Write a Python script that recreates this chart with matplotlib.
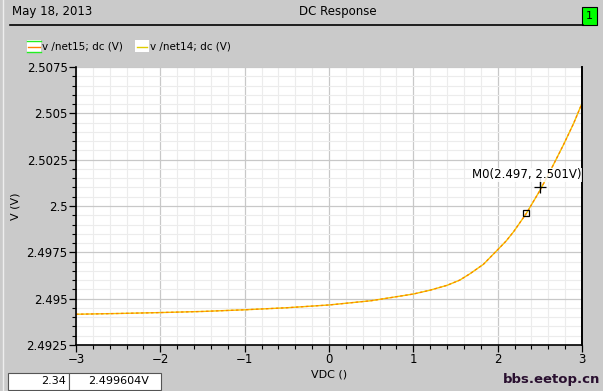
"""DC Response plot, Virtuoso-style viewer look."""

import matplotlib
matplotlib.use("Agg")
import matplotlib.pyplot as plt
from matplotlib.patches import Rectangle
from matplotlib.lines import Line2D
from matplotlib.ticker import MultipleLocator, FixedLocator

plt.rcParams["font.family"] = ["DejaVu Sans"]

# sweep points
vdc = [-3.0, -2.5, -2.0, -1.5, -1.0, -0.5, 0.0, 0.5, 1.0, 1.2, 1.4, 1.55, 1.67,
       1.83, 2.0, 2.1, 2.19, 2.34, 2.5, 2.64, 2.78, 2.9, 3.0]
v_net15 = [2.49416, 2.49420, 2.49425, 2.49431, 2.49440, 2.49451, 2.49466, 2.49489,
           2.49525, 2.49546, 2.49572, 2.49600, 2.49634, 2.49685, 2.49764, 2.49811,
           2.49862, 2.49960, 2.50083, 2.50204, 2.50330, 2.50445, 2.50554]
v_net14 = v_net15

y_ticks = [2.4925, 2.495, 2.4975, 2.5, 2.5025, 2.505, 2.5075]
y_tick_labels = ["2.4925", "2.495", "2.4975", "2.5", "2.5025", "2.505", "2.5075"]
x_ticks = [-3, -2, -1, 0, 1, 2, 3]

marker_pt = (2.34, 2.499604)
m0_pt = (2.497, 2.501)

W, H = 603, 391
BG = "#cacaca"


def fx(px):
    return px / W


def fy(py):
    return 1 - py / H


fig = plt.figure(figsize=(W / 100, H / 100), dpi=100, facecolor=BG)

# header
fig.text(fx(12), fy(11), "May 18, 2013", fontsize=8.5, va="center", ha="left")
fig.text(fx(338), fy(11), "DC Response", fontsize=8.5, va="center", ha="center")
fig.add_artist(Line2D([fx(10), fx(583)], [fy(25), fy(25)], color="black", lw=1.2))
fig.add_artist(Rectangle((fx(582), fy(25)), fx(15), 18 / H, facecolor="#00ff00",
                         edgecolor="black", lw=0.8))
fig.text(fx(589.5), fy(16), "1", fontsize=8, va="center", ha="center")
fig.add_artist(Line2D([fx(2.5), fx(2.5)], [0, 1], color="#eeeeee", lw=1))

# legend
fig.add_artist(Rectangle((fx(27), fy(52)), fx(14), 12 / H, facecolor="white",
                         edgecolor="none"))
fig.add_artist(Line2D([fx(27), fx(41)], [fy(41), fy(41)], color="#22ee22", lw=1))
fig.add_artist(Line2D([fx(27), fx(41)], [fy(51.5), fy(51.5)], color="#22ee22", lw=1))
fig.add_artist(Line2D([fx(28), fx(40)], [fy(46.5), fy(46.5)], color="#ff8000", lw=1))
fig.text(fx(42), fy(46.5), "v /net15; dc (V)", fontsize=7.5, va="center", ha="left")
fig.add_artist(Rectangle((fx(135), fy(52)), fx(14), 12 / H, facecolor="white",
                         edgecolor="none"))
fig.add_artist(Line2D([fx(137), fx(147)], [fy(46.5), fy(46.5)], color="#e0cc00", lw=1))
fig.text(fx(150), fy(46.5), "v /net14; dc (V)", fontsize=7.5, va="center", ha="left")

ax = fig.add_axes([fx(76), fy(345), fx(582 - 76), (345 - 67) / H])
ax.set_facecolor("white")
ax.plot(vdc, v_net14, color="#f0c800", lw=1.0, solid_capstyle="butt")
ax.plot(vdc, v_net15, color="#ff8000", lw=0.9, dashes=(2, 2))
ax.plot(*marker_pt, marker="s", ms=4, mfc="none", mec="black", mew=0.9)
ax.plot(*m0_pt, marker="+", ms=8, color="black", mew=0.9)
ax.plot([m0_pt[0], m0_pt[0]], [m0_pt[1], 2.5015], color="black", lw=0.9)
ax.text(2.995, 2.50168, "M0(2.497, 2.501V)", fontsize=8.5, ha="right", va="center",
        bbox=dict(facecolor="white", edgecolor="none", pad=0.5, alpha=0.85))

ax.set_xlim(-3, 3)
ax.set_ylim(2.4925, 2.5075)
ax.xaxis.set_major_locator(FixedLocator(x_ticks))
ax.xaxis.set_minor_locator(MultipleLocator(0.2))
ax.yaxis.set_major_locator(FixedLocator(y_ticks))
ax.yaxis.set_minor_locator(MultipleLocator(0.0005))
ax.set_yticklabels(y_tick_labels)
ax.grid(which="major", color="#c8c8c8", lw=0.9)
ax.grid(which="minor", color="#ececec", lw=0.8)
ax.set_axisbelow(True)
ax.tick_params(which="major", direction="out", length=5, width=0.9, labelsize=8.5,
               pad=1)
ax.tick_params(which="minor", direction="out", length=3, width=0.8)
ax.spines["top"].set_visible(False)
ax.spines["right"].set_linewidth(1.4)
for s in ("left", "bottom"):
    ax.spines[s].set_linewidth(1.2)
ax.set_xlabel("VDC ()", fontsize=8, labelpad=2)
ax.set_ylabel("V (V)", fontsize=8, labelpad=4)

# cursor readout boxes
fig.add_artist(Rectangle((fx(8), fy(390)), fx(61), 17 / H, facecolor="white",
                         edgecolor="#555555", lw=0.8))
fig.add_artist(Rectangle((fx(69), fy(390)), fx(92), 17 / H, facecolor="white",
                         edgecolor="#555555", lw=0.8))
fig.text(fx(66), fy(381), "2.34", fontsize=8, ha="right", va="center")
fig.text(fx(88), fy(381), "2.499604V", fontsize=8, ha="left", va="center")

fig.text(fx(600), fy(380), "bbs.eetop.cn", fontsize=9.5, fontweight="bold",
         color="#2a1030", ha="right", va="center")

fig.savefig("out.png", dpi=100, facecolor=BG)
